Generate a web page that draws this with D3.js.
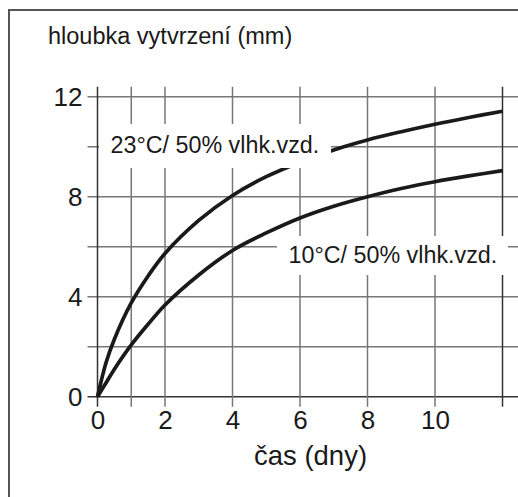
<!DOCTYPE html>
<html>
<head>
<meta charset="utf-8">
<script src="https://cdn.jsdelivr.net/npm/d3@7"></script>
<style>
  body { margin: 0; background: #fff; }
  text { font-family: "Liberation Sans", Arial, sans-serif; fill: #1a1a1a; }
</style>
</head>
<body>
<svg id="chart" width="518" height="497"></svg>
<script>
// days and depth of cure (mm)
var days   = [0, 0.25, 0.5, 1, 1.5, 2, 3, 4, 5, 6, 7, 8, 9, 10, 11, 12];
var warm23 = [0, 1.35, 2.3, 3.75, 4.83, 5.73, 7.05, 8.05, 8.8, 9.38, 9.87, 10.27, 10.6, 10.9, 11.17, 11.42];
var cold10 = [0, 0.55, 1.1, 2.07, 2.9, 3.67, 4.87, 5.85, 6.55, 7.15, 7.62, 8.0, 8.33, 8.6, 8.83, 9.04];

var xGrid = [0, 1, 2, 4, 6, 8, 10, 12];
var yGrid = [0, 2, 4, 6, 8, 10, 12];
var xLabels = [0, 2, 4, 6, 8, 10];
var yLabels = [0, 4, 8, 12];

var title = "hloubka vytvrzení (mm)";
var xTitle = "čas (dny)";
var label23 = "23°C/ 50% vlhk.vzd.";
var label10 = "10°C/ 50% vlhk.vzd.";

var svg = d3.select("#chart");

var x = d3.scaleLinear().domain([0, 12]).range([97.5, 502.5]);
var y = d3.scaleLinear().domain([0, 12]).range([396.7, 96.7]);

// outer frame (only left and top edges are inside the picture)
svg.append("path")
  .attr("d", "M9,497 L9,10 L518,10")
  .style("fill", "none").style("stroke", "#555").style("stroke-width", 2);

svg.append("text").attr("x", 48).attr("y", 44).style("font-size", "23.5px").text(title);

// grid, with 10px tick overhang
svg.selectAll(".hgrid").data(yGrid).enter().append("line")
  .attr("class", "hgrid")
  .attr("x1", x(0) - 10).attr("x2", 518)
  .attr("y1", function(d) { return y(d); }).attr("y2", function(d) { return y(d); })
  .style("stroke", function(d) { return d == 0 ? "#333" : "#777"; })
  .style("stroke-width", 1.5);

svg.selectAll(".vgrid").data(xGrid).enter().append("line")
  .attr("class", "vgrid")
  .attr("y1", y(12) - 10).attr("y2", y(0) + 10)
  .attr("x1", function(d) { return x(d); }).attr("x2", function(d) { return x(d); })
  .style("stroke", function(d) { return (d == 0 || d == 12) ? "#333" : "#777"; })
  .style("stroke-width", 1.5);

// curves
var line = d3.line()
  .x(function(d) { return x(d[0]); })
  .y(function(d) { return y(d[1]); })
  .curve(d3.curveCatmullRom.alpha(0.5));

[warm23, cold10].forEach(function(s) {
  svg.append("path")
    .datum(d3.zip(days, s))
    .attr("d", line)
    .style("fill", "none").style("stroke", "#1a1a1a").style("stroke-width", 3.7);
});

// tick labels
var xAxis = svg.append("g").attr("transform", "translate(0," + y(0) + ")")
  .call(d3.axisBottom(x).tickValues(xLabels).tickSize(0).tickPadding(14));
var yAxis = svg.append("g").attr("transform", "translate(" + x(0) + ",0)")
  .call(d3.axisLeft(y).tickValues(yLabels).tickSize(0).tickPadding(15));
[xAxis, yAxis].forEach(function(a) {
  a.select(".domain").remove();
  a.selectAll("text").style("font-size", "26px").style("fill", "#1a1a1a")
    .style("font-family", "'Liberation Sans', Arial, sans-serif");
});
xAxis.selectAll("text").attr("dy", "0.71em");

svg.append("text").attr("x", 310.5).attr("y", 465).attr("text-anchor", "middle")
  .style("font-size", "27.5px").text(xTitle);

// curve labels on white boxes
svg.append("rect").attr("x", 99).attr("y", 124).attr("width", 232).attr("height", 44).style("fill", "#fff");
svg.append("text").attr("x", 110.5).attr("y", 153).style("font-size", "23.3px").text(label23);

svg.append("rect").attr("x", 277).attr("y", 236).attr("width", 231).attr("height", 39).style("fill", "#fff");
svg.append("text").attr("x", 288.5).attr("y", 262.5).style("font-size", "23.3px").text(label10);
</script>
</body>
</html>
